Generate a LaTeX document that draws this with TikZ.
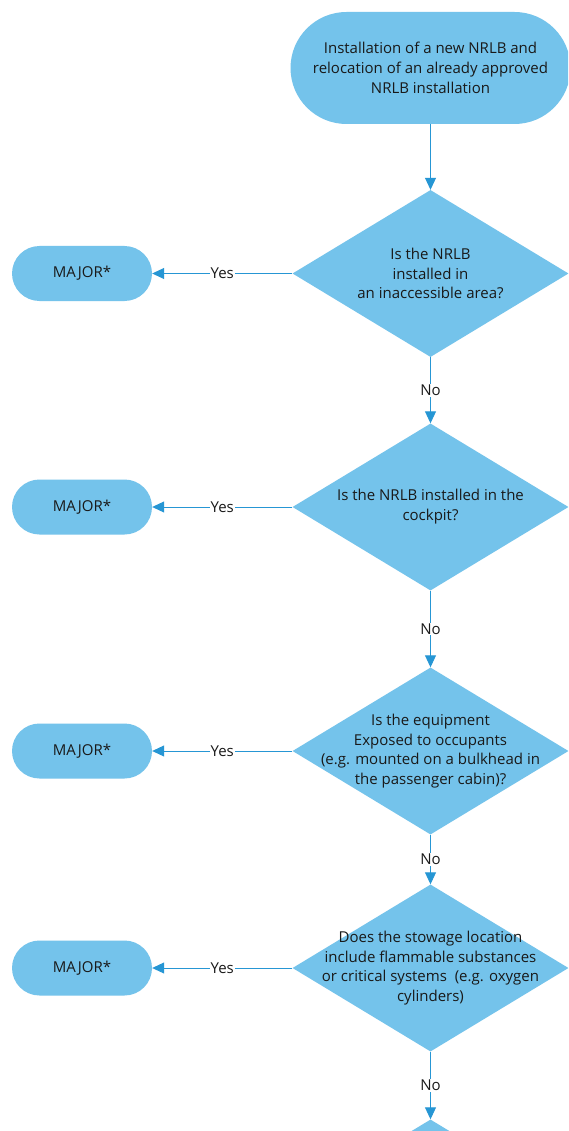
\documentclass[tikz,border=0pt]{standalone}
\usepackage{fontspec}
\setmainfont{Open Sans}
\usetikzlibrary{arrows.meta,shapes.geometric}
\definecolor{boxfill}{RGB}{116,195,235}
\definecolor{linecol}{RGB}{38,150,212}
\definecolor{txtcol}{RGB}{25,25,25}
\begin{document}
\begin{tikzpicture}[x=1pt,y=-1pt,
  every node/.style={font=\fontsize{15}{19.8}\selectfont, text=txtcol},
  stadium/.style={fill=boxfill, draw=none, rectangle, rounded corners=#1, align=center, inner sep=0pt},
  startbox/.style={stadium=56pt, minimum width=280pt, minimum height=112pt},
  majorbox/.style={stadium=27.5pt, minimum width=140pt, minimum height=55pt},
  dia/.style={fill=boxfill, draw=none, diamond, minimum width=276pt, minimum height=167pt, inner sep=0pt},
  qtext/.style={align=center, inner sep=0pt},
  conn/.style={draw=linecol, line width=0.9pt, -{Triangle[length=12pt,width=11pt]}},
  lbl/.style={fill=white, inner sep=1pt, midway}
]
\useasboundingbox (0,0) rectangle (568,1131);
\clip (0,0) rectangle (568,1131);
\fill[white] (0,0) rectangle (568,1131);

\node[startbox] (start) at (430.5,68) {Installation of a new NRLB and\\relocation of an already approved\\NRLB installation};

\node[dia] (d1) at (430.5,273.5) {};
\node[qtext] (d1t) at (d1.center) {Is the NRLB\\installed in\\an inaccessible area?};
\node[dia] (d2) at (430.5,507) {};
\node[qtext] (d2t) at (d2.center) {Is the NRLB installed in the\\cockpit?};
\node[dia] (d3) at (430.5,751) {};
\node[qtext] (d3t) at (d3.center) {Is the equipment\\Exposed to occupants\\(e.g. mounted on a bulkhead in\\the passenger cabin)?};
\node[dia] (d4) at (430.5,968) {};
\node[qtext] (d4t) at (d4.center) {Does the stowage location\\include flammable substances\\or critical systems\ \ (e.g. oxygen\\cylinders)};
\node[dia] (d5) at (430.5,1203) {};

\node[majorbox] (m1) at (82,273.5) {MAJOR*};
\node[majorbox] (m2) at (82,507) {MAJOR*};
\node[majorbox] (m3) at (82,751) {MAJOR*};
\node[majorbox] (m4) at (82,968) {MAJOR*};

\draw[conn] (start.south) -- (d1.north);
\draw[conn] (d1.south) -- node[lbl] (n1) {No} (d2.north);
\draw[conn] (d2.south) -- node[lbl] (n2) {No} (d3.north);
\draw[conn] (d3.south) -- node[lbl] (n3) {No} (d4.north);
\draw[conn] (d4.south) -- node[lbl] (n4) {No} (d5.north);

\draw[conn] (d1.west) -- node[lbl] (y1) {Yes} (m1.east);
\draw[conn] (d2.west) -- node[lbl] (y2) {Yes} (m2.east);
\draw[conn] (d3.west) -- node[lbl] (y3) {Yes} (m3.east);
\draw[conn] (d4.west) -- node[lbl] (y4) {Yes} (m4.east);
\end{tikzpicture}
\end{document}
